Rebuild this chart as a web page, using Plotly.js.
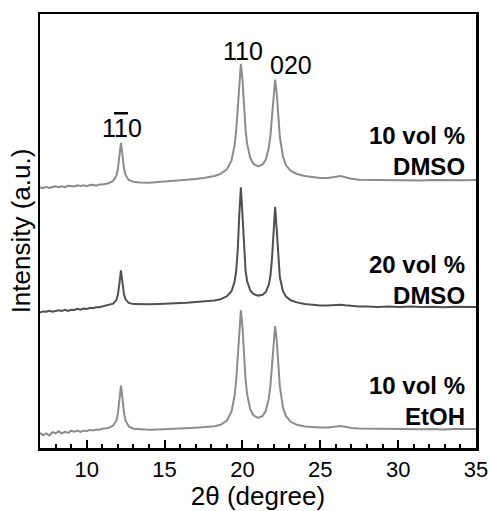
<!DOCTYPE html>
<html>
<head>
<meta charset="utf-8">
<script src="https://cdn.plot.ly/plotly-3.0.1.min.js"></script>
<style>html,body{margin:0;padding:0;background:#fff;}#chart{width:491px;height:511px;}</style>
</head>
<body>
<div id="chart"></div>
<script>
// 2-theta values (degree)
const twoTheta = [7.0,7.2,7.4,7.6,7.8,8.0,8.2,8.4,8.6,8.8,9.0,9.2,9.4,9.6,9.8,10.0,10.2,10.4,10.6,10.8,11.0,
  11.4,11.7,11.9,12.0,12.1,12.2,12.3,12.4,12.5,12.7,13.0,13.4,14.0,14.6,15.2,15.8,16.4,17.0,17.6,18.2,18.6,
  19.0,19.3,19.5,19.6,19.7,19.8,19.9,20.0,20.1,20.2,20.3,20.5,20.7,21.0,21.3,21.5,21.7,21.8,21.9,22.0,22.1,
  22.2,22.3,22.4,22.6,22.8,23.1,23.5,24.0,24.5,25.0,25.5,26.0,26.3,26.6,27.0,27.5,28.0,28.7,29.4,30.1,30.8,
  31.5,32.2,32.9,33.6,34.3,35.0];

// Intensities (a.u., stacked offsets included)
const dmso10 = [253.5,252.9,254.1,253.0,254.0,254.6,253.7,254.7,253.9,255.2,255.1,254.6,255.8,255.1,255.8,254.9,255.9,256.2,255.4,256.5,256.5,
  257.8,260.1,265.1,271.8,285.4,298.2,285.6,272.2,265.7,261.0,259.2,258.5,258.3,259.0,259.6,260.4,261.2,262.1,263.2,265.0,267.1,
  271.6,280.6,295.9,310.5,333.0,361.4,377.1,361.9,333.9,311.6,297.4,283.2,277.3,274.6,276.6,281.5,293.7,305.8,324.7,348.5,361.3,
  348.0,323.9,304.7,284.4,275.7,270.2,267.0,265.0,263.8,263.0,263.0,264.1,264.9,263.8,262.2,261.3,261.2,260.8,261.1,260.7,261.0,
  260.6,261.0,260.7,261.1,260.8,261.0];

const dmso20 = [128.4,129.6,129.2,130.3,129.3,130.2,130.8,130.0,131.1,130.1,131.3,131.1,132.2,131.4,132.4,132.1,133.3,132.8,133.8,133.8,134.5,
  135.5,137.3,140.9,145.9,157.6,170.7,157.8,146.2,141.4,138.1,136.9,136.7,136.7,137.0,137.3,137.8,138.3,139.1,139.6,140.6,141.8,
  144.7,149.7,159.5,170.4,191.1,226.9,253.6,227.0,191.4,170.7,160.0,150.5,147.0,145.4,146.3,149.0,156.7,165.5,182.5,212.1,234.1,
  211.6,181.6,164.2,149.8,144.4,140.7,138.6,137.1,136.2,135.5,135.5,135.9,136.3,135.7,135.0,134.4,134.6,134.1,134.5,134.0,134.4,
  133.9,134.3,133.8,134.2,133.9,134.1];

const etoh10 = [8.1,5.6,7.5,5.6,8.8,7.7,9.7,7.6,9.1,8.0,10.3,9.2,10.5,9.2,10.5,9.8,11.2,10.6,11.4,11.2,12.2,
  13.0,15.4,20.3,27.3,41.9,55.5,41.9,27.3,20.3,14.5,12.3,11.6,11.2,11.6,11.9,12.3,12.8,13.3,13.9,14.7,16.2,
  20.4,29.6,45.5,60.8,84.6,114.4,130.8,114.7,85.3,61.9,47.0,31.9,25.7,23.1,25.1,30.2,43.1,55.9,75.9,101.3,115.0,
  101.0,75.4,55.1,33.7,24.8,19.2,16.2,14.6,13.9,13.5,13.6,14.4,15.0,14.2,13.0,12.5,12.4,11.9,12.3,11.8,12.2,
  11.7,12.1,11.6,12.0,11.7,12.0];

const xTicks = [10,15,20,25,30,35];
const sampleLabels = ["10 vol %<br>DMSO","20 vol %<br>DMSO","10 vol %<br>EtOH"];
const sampleY = [290.5,161,40.5];
const peakLabels = ["1<span style=\"text-decoration:overline\">1</span>0","110","020"];
const peakX = [12.26,20.06,23.1];
const peakY = [313,390,376];

const FONT = "Liberation Sans, Arial, Helvetica, sans-serif";
const lightGray = "#8c8c8c", darkGray = "#505050";

const traces = [
  {x: twoTheta, y: dmso10, mode: "lines", line: {color: lightGray, width: 2}, hoverinfo: "skip"},
  {x: twoTheta, y: dmso20, mode: "lines", line: {color: darkGray, width: 2}, hoverinfo: "skip"},
  {x: twoTheta, y: etoh10, mode: "lines", line: {color: lightGray, width: 2}, hoverinfo: "skip"}
];

const annotations = [];
peakLabels.forEach((t, i) => annotations.push({
  x: peakX[i], y: peakY[i], xref: "x", yref: "y", text: t, showarrow: false,
  font: {family: FONT, size: 25, color: "#000"}, xanchor: "center", yanchor: "middle"
}));
sampleLabels.forEach((t, i) => annotations.push({
  x: 34.4, y: sampleY[i], xref: "x", yref: "y", text: "<b>" + t + "</b>", showarrow: false,
  font: {family: FONT, size: 24, color: "#000"}, xanchor: "right", yanchor: "middle", align: "right"
}));

const layout = {
  width: 491, height: 511,
  margin: {l: 40, r: 15, t: 14, b: 63},
  paper_bgcolor: "#fff", plot_bgcolor: "#fff",
  showlegend: false,
  font: {family: FONT, color: "#000"},
  xaxis: {
    range: [7, 35], tickvals: xTicks, ticktext: xTicks.map(String),
    ticks: "inside", ticklen: 8, tickwidth: 2, tickcolor: "#000",
    minor: {dtick: 1, ticks: "inside", ticklen: 4, tickwidth: 2, tickcolor: "#000"},
    showline: true, linewidth: 2.5, linecolor: "#000", mirror: true,
    showgrid: false, zeroline: false,
    tickfont: {family: FONT, size: 22, color: "#000"},
    title: {text: "2θ (degree)", font: {family: FONT, size: 26, color: "#000"}, standoff: 4}
  },
  yaxis: {
    range: [-7, 427], showticklabels: false, ticks: "",
    showline: true, linewidth: 2.5, linecolor: "#000", mirror: true,
    showgrid: false, zeroline: false,
    title: {text: "Intensity (a.u.)", font: {family: FONT, size: 26, color: "#000"}, standoff: 0}
  },
  annotations: annotations
};

Plotly.newPlot("chart", traces, layout, {displayModeBar: false, staticPlot: true});
</script>
</body>
</html>
